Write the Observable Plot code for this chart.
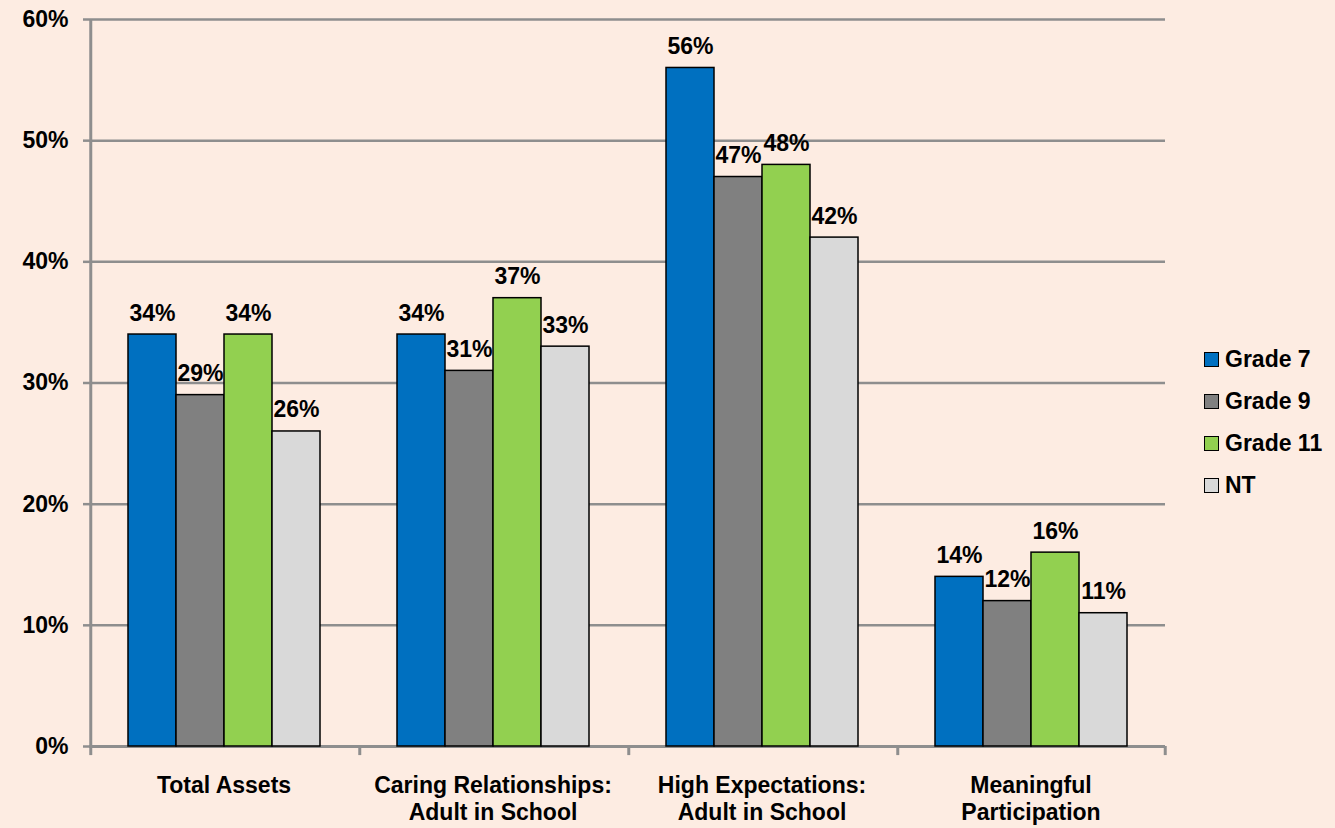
<!DOCTYPE html>
<html>
<head>
<meta charset="utf-8">
<script src="https://cdn.jsdelivr.net/npm/d3@7"></script>
<script src="https://cdn.jsdelivr.net/npm/@observablehq/plot@0.6"></script>
<style>
  body { margin: 0; background: #fdece2; }
  #wrap { position: relative; width: 1335px; height: 828px; background: #fdece2; font-family: "Liberation Sans", Arial, sans-serif; }
  #legend { position: absolute; left: 1204px; top: 338px; }
  .item { display: flex; align-items: center; height: 42px; font-weight: bold; font-size: 23px; color: #000; }
  .sw { width: 13px; height: 13px; border: 1.5px solid #000; margin-right: 6px; box-sizing: content-box; }
</style>
</head>
<body>
<div id="wrap"></div>
<script>
const categories = ["Total Assets", "Caring Relationships:\nAdult in School", "High Expectations:\nAdult in School", "Meaningful\nParticipation"];
const grades = ["Grade 7", "Grade 9", "Grade 11", "NT"];
const grade7 = [34, 34, 56, 14];
const grade9 = [29, 31, 47, 12];
const grade11 = [34, 37, 48, 16];
const nt = [26, 33, 42, 11];
const colors = ["#0070c0", "#808080", "#92d050", "#d9d9d9"];
const yTicks = [0, 10, 20, 30, 40, 50, 60];

const series = [grade7, grade9, grade11, nt];
const data = [];
categories.forEach((c, i) => grades.forEach((g, j) => data.push({category: c, grade: g, value: series[j][i]})));

const W = 1335, H = 828, mL = 89, mR = 170, mT = 19, mB = 82;
const pad = 0.773;
const facetW = (W - mL - mR) / categories.length;
const step = facetW / (grades.length + 2 * pad);
const edgeOffset = pad * step + step / 2;
const gray = "#8e8e8e";

const chart = Plot.plot({
  width: W, height: H,
  marginLeft: mL, marginRight: mR, marginTop: mT, marginBottom: mB,
  style: {fontFamily: "Liberation Sans, Arial, sans-serif", fontSize: "23px", fontWeight: "bold", background: "transparent", color: "#000"},
  fx: {domain: categories, padding: 0, label: null},
  x: {domain: grades, paddingInner: 0, paddingOuter: pad, axis: null},
  y: {domain: [0, 60], axis: null},
  color: {domain: grades, range: colors},
  marks: [
    Plot.gridY(yTicks, {stroke: gray, strokeOpacity: 1, strokeWidth: 2.5}),
    Plot.axisY(yTicks, {tickSize: 6, tickPadding: 15, tickFormat: d => d + "%", stroke: gray, strokeWidth: 2.5, label: null, fill: "#000"}),
    Plot.axisFx({anchor: "bottom", tickSize: 0, tickPadding: 27, lineHeight: 1.17, label: null, fill: "#000"}),
    Plot.ruleX([categories[0]], {fx: d => d, x: () => grades[0], dx: -edgeOffset, y1: 0, y2: 60, stroke: gray, strokeWidth: 3}),
    Plot.ruleX(categories, {fx: d => d, x: () => grades[0], dx: -edgeOffset, y1: 0, y2: -0.75, stroke: gray, strokeWidth: 3}),
    Plot.ruleX([categories[categories.length - 1]], {fx: d => d, x: () => grades[grades.length - 1], dx: edgeOffset, y1: 0, y2: -0.75, stroke: gray, strokeWidth: 3}),
    Plot.ruleY([0], {stroke: gray, strokeWidth: 3}),
    Plot.barY(data, {fx: "category", x: "grade", y: "value", fill: "grade", stroke: "#000", strokeWidth: 1.5}),
    Plot.text(data, {fx: "category", x: "grade", y: "value", text: d => d.value + "%", lineAnchor: "bottom", dy: -14, fill: "#000"})
  ]
});

const wrap = document.getElementById("wrap");
wrap.appendChild(chart);
const legend = document.createElement("div");
legend.id = "legend";
grades.forEach((g, i) => {
  const item = document.createElement("div");
  item.className = "item";
  const sw = document.createElement("span");
  sw.className = "sw";
  sw.style.background = colors[i];
  item.appendChild(sw);
  item.appendChild(document.createTextNode(g));
  legend.appendChild(item);
});
wrap.appendChild(legend);
</script>
</body>
</html>
